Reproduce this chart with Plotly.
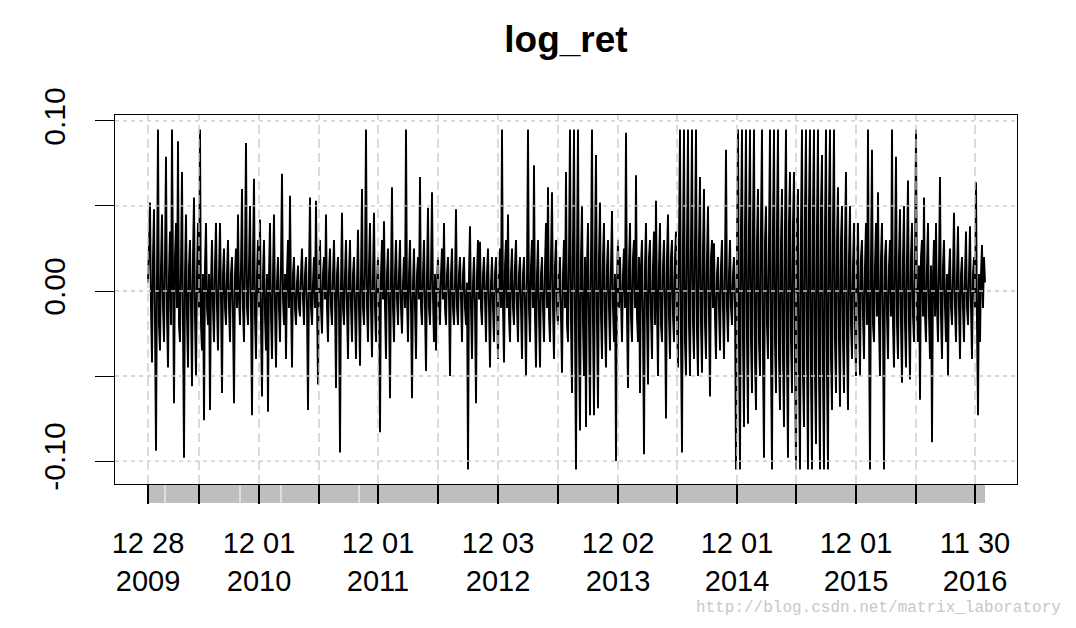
import plotly.graph_objects as go

log_ret = [
    0.005, 0.03, 0.052, -0.01, -0.042, 0.02, 0.048, -0.02, -0.094, 0.01, 0.095, -0.02, -0.035, 0.015, 0.045, -0.01, -0.03, 0.02, 0.079, -0.015,
    -0.045, 0.01, 0.035, -0.02, 0.095, 0.01, -0.066, 0.02, 0.04, -0.01, 0.088, -0.02, -0.03, 0.015, 0.07, -0.02, -0.098, 0.01, 0.045, -0.015,
    -0.045, 0.015, 0.03, -0.01, -0.056, 0.02, 0.055, -0.015, -0.05, 0.01, 0.04, -0.01, 0.095, -0.02, -0.035, 0.01, -0.076, 0.015, 0.04, -0.01,
    -0.02, 0.01, -0.07, 0.005, 0.03, -0.01, -0.03, 0.015, 0.04, -0.01, -0.035, 0.01, 0.04, -0.005, -0.06, 0.01, 0.025, -0.01, -0.02, 0.01,
    0.03, -0.01, -0.03, 0.01, 0.02, -0.015, -0.066, 0.01, 0.025, -0.01, 0.045, -0.005, -0.02, 0.015, 0.06, -0.01, -0.03, 0.02, 0.087, -0.01,
    -0.02, 0.015, 0.05, -0.01, -0.073, 0.02, 0.066, -0.015, -0.04, 0.01, 0.03, -0.01, 0.042, -0.02, -0.062, 0.01, 0.03, -0.015, -0.035, 0.01,
    -0.071, 0.01, 0.04, -0.015, -0.04, 0.01, 0.045, -0.01, -0.045, 0.005, 0.02, -0.01, -0.03, 0.015, 0.069, -0.005, -0.02, 0.01, -0.04, 0.01,
    0.03, -0.01, 0.056, -0.005, -0.045, 0.01, 0.02, -0.01, -0.02, 0.005, 0.015, -0.01, -0.015, 0.01, 0.025, -0.005, -0.02, 0.01, 0.02, -0.01,
    -0.07, 0.01, 0.055, -0.01, -0.02, 0.005, 0.02, -0.01, 0.053, -0.005, -0.055, 0.01, 0.03, -0.01, -0.025, 0.01, 0.02, -0.005, 0.045, -0.01,
    -0.03, 0.01, 0.025, -0.01, -0.02, 0.01, 0.03, -0.005, -0.057, 0.01, 0.02, -0.01, -0.095, 0.005, 0.046, -0.01, -0.02, 0.01, 0.03, -0.01,
    -0.04, 0.01, 0.03, -0.01, -0.03, 0.01, 0.02, -0.01, -0.04, 0.005, 0.036, -0.01, -0.044, 0.01, 0.06, -0.01, -0.02, 0.015, 0.095, -0.01,
    -0.03, 0.015, 0.04, -0.01, -0.039, 0.01, 0.046, -0.01, -0.03, 0.005, 0.02, -0.01, -0.083, 0.01, 0.03, -0.005, 0.041, -0.01, -0.04, 0.01,
    0.025, -0.01, -0.063, 0.01, 0.061, -0.01, -0.03, 0.01, 0.03, -0.005, -0.02, 0.01, 0.03, -0.01, -0.025, 0.005, 0.02, -0.01, 0.095, -0.005,
    -0.03, 0.01, 0.03, -0.01, -0.063, 0.005, 0.025, -0.01, -0.04, 0.01, 0.02, -0.005, 0.067, -0.01, -0.02, 0.01, 0.03, -0.01, -0.047, 0.01,
    0.049, -0.01, -0.02, 0.01, 0.058, -0.005, -0.03, 0.01, -0.035, 0.005, 0.02, -0.01, -0.02, 0.01, 0.025, -0.005, 0.04, -0.01, -0.02, 0.01,
    0.02, -0.005, -0.05, 0.01, 0.025, -0.01, -0.02, 0.005, 0.048, -0.01, -0.02, 0.01, 0.02, -0.005, -0.03, 0.01, 0.02, -0.01, -0.02, 0.005,
    -0.105, 0.01, 0.038, -0.01, -0.04, 0.005, 0.02, -0.01, -0.066, 0.01, 0.03, -0.005, 0.029, -0.01, -0.02, 0.01, 0.02, -0.005, -0.03, 0.01,
    0.025, -0.01, -0.045, 0.005, 0.02, -0.01, -0.03, 0.01, 0.02, -0.005, -0.04, 0.01, 0.025, -0.01, 0.095, -0.01, -0.042, 0.015, 0.03, -0.01,
    0.045, -0.015, -0.03, 0.01, 0.025, -0.01, -0.02, 0.015, 0.03, -0.01, -0.03, 0.01, 0.02, -0.01, -0.04, 0.01, 0.02, -0.01, -0.05, 0.01,
    0.095, -0.01, -0.03, 0.015, 0.03, -0.01, 0.074, -0.015, -0.045, 0.01, 0.03, -0.015, -0.045, 0.01, 0.02, -0.01, -0.03, 0.015, 0.04, -0.01,
    0.061, -0.015, -0.03, 0.02, 0.058, -0.01, -0.04, 0.015, 0.03, -0.01, -0.02, 0.01, 0.02, -0.015, -0.048, 0.01, 0.03, -0.01, 0.07, -0.02,
    -0.03, 0.02, 0.095, -0.02, -0.06, 0.03, 0.095, -0.02, -0.105, 0.02, 0.095, -0.03, -0.082, 0.02, 0.05, -0.02, -0.05, 0.02, -0.08, 0.015,
    0.04, -0.02, -0.073, 0.02, 0.095, -0.02, -0.073, 0.025, 0.08, -0.02, -0.069, 0.02, 0.052, -0.015, -0.04, 0.02, 0.04, -0.02, -0.045, 0.015,
    0.03, -0.01, -0.035, 0.015, 0.047, -0.01, -0.03, 0.01, -0.1, 0.005, 0.03, -0.01, 0.02, -0.005, -0.03, 0.01, 0.025, -0.01, 0.093, -0.015,
    -0.057, 0.015, 0.04, -0.015, -0.03, 0.02, 0.03, -0.01, 0.068, -0.015, -0.03, 0.02, -0.06, 0.015, 0.03, -0.02, -0.096, 0.015, 0.04, -0.015,
    -0.055, 0.02, 0.03, -0.015, -0.04, 0.015, 0.035, -0.02, 0.053, -0.01, -0.05, 0.015, 0.04, -0.02, -0.03, 0.015, 0.03, -0.01, -0.075, 0.02,
    0.045, -0.015, -0.04, 0.02, 0.03, -0.015, -0.03, 0.02, 0.035, -0.02, -0.045, 0.03, 0.095, -0.03, -0.095, 0.03, 0.095, -0.03, -0.05, 0.03,
    0.095, -0.02, -0.05, 0.03, 0.095, -0.02, -0.04, 0.03, 0.095, -0.025, -0.05, 0.03, 0.067, -0.02, -0.048, 0.025, 0.06, -0.02, -0.04, 0.02,
    0.05, -0.015, -0.062, 0.02, 0.03, -0.01, 0.028, -0.015, -0.04, 0.01, 0.02, -0.01, -0.035, 0.015, 0.03, -0.01, -0.04, 0.015, 0.083, -0.01,
    -0.03, 0.01, 0.03, -0.01, -0.02, 0.01, 0.02, -0.01, -0.105, 0.03, 0.095, -0.03, -0.105, 0.04, 0.095, -0.03, -0.08, 0.04, 0.095, -0.03,
    -0.078, 0.04, 0.095, -0.03, -0.06, 0.04, 0.095, -0.04, -0.07, 0.03, 0.06, -0.03, -0.05, 0.04, 0.095, -0.04, -0.098, 0.03, 0.05, -0.02,
    -0.04, 0.03, 0.095, -0.04, -0.105, 0.04, 0.095, -0.03, -0.06, 0.04, 0.095, -0.04, -0.07, 0.03, 0.06, -0.04, -0.08, 0.04, 0.095, -0.04,
    -0.098, 0.04, 0.07, -0.03, -0.06, 0.04, 0.07, -0.04, -0.105, 0.04, 0.06, -0.05, -0.105, 0.04, 0.095, -0.05, -0.08, 0.05, 0.095, -0.04,
    -0.105, 0.05, 0.095, -0.05, -0.105, 0.05, 0.095, -0.05, -0.09, 0.04, 0.095, -0.05, -0.105, 0.05, 0.08, -0.05, -0.105, 0.04, 0.095, -0.05,
    -0.105, 0.05, 0.095, -0.04, -0.07, 0.04, 0.095, -0.03, -0.06, 0.03, 0.061, -0.03, -0.068, 0.03, 0.05, -0.03, -0.06, 0.03, 0.07, -0.03,
    -0.07, 0.02, 0.05, -0.02, -0.04, 0.015, 0.04, -0.02, -0.05, 0.015, 0.04, -0.015, -0.05, 0.02, 0.03, -0.015, -0.04, 0.015, 0.04, -0.02,
    0.095, -0.02, -0.105, 0.02, 0.083, -0.02, -0.03, 0.015, 0.04, -0.015, 0.058, -0.02, -0.05, 0.02, 0.04, -0.02, -0.105, 0.02, 0.03, -0.015,
    -0.04, 0.015, 0.03, -0.015, 0.095, -0.02, -0.045, 0.02, 0.079, -0.02, -0.04, 0.02, 0.048, -0.02, -0.054, 0.02, 0.05, -0.02, -0.045, 0.02,
    0.065, -0.02, -0.052, 0.02, 0.04, -0.015, -0.03, 0.015, 0.095, -0.015, -0.03, 0.015, -0.064, 0.02, 0.03, -0.015, 0.055, -0.015, -0.03, 0.015,
    0.04, -0.015, -0.04, 0.015, -0.089, 0.01, 0.03, -0.015, 0.04, -0.01, -0.03, 0.015, 0.067, -0.015, -0.04, 0.015, 0.03, -0.01, -0.03, 0.01,
    -0.05, 0.01, 0.025, -0.01, -0.02, 0.01, 0.046, -0.01, -0.03, 0.01, 0.038, -0.01, -0.04, 0.01, 0.02, -0.01, -0.03, 0.01, 0.035, -0.01,
    -0.02, 0.01, 0.038, -0.01, -0.04, 0.01, 0.02, -0.01, 0.064, -0.02, -0.073, 0.01, -0.03, 0.01, 0.027, -0.01, 0.02, 0.005,
]
obs_index = list(range(len(log_ret)))

# x-axis major tick positions (observation index) and labels
major_ticks = [0, 51, 111, 171, 230, 290, 350, 410, 470, 529, 589, 648, 708, 768, 827]
major_labels = ["12 28<br>2009", "", "12 01<br>2010", "", "12 01<br>2011", "",
                "12 03<br>2012", "", "12 02<br>2013", "", "12 01<br>2014", "",
                "12 01<br>2015", "", "11 30<br>2016"]
minor_ticks = [17, 92, 133, 211]

# y-axis ticks
y_ticks = [-0.10, -0.05, 0.00, 0.05, 0.10]
y_labels = ["-0.10", "", "0.00", "", "0.10"]

FONT = "Liberation Sans, Arial, sans-serif"
GRID = "#c8c8c8"

fig = go.Figure()
fig.add_trace(go.Scatter(x=obs_index, y=log_ret, mode="lines",
                         line=dict(color="black", width=1.9),
                         hoverinfo="skip", showlegend=False))

shapes = []
# grey band under the plot
shapes.append(dict(type="rect", xref="x", yref="paper", x0=obs_index[0], x1=obs_index[-1],
                   y0=-0.0515, y1=0, fillcolor="#bebebe", line=dict(width=0), layer="below"))
for m in minor_ticks:
    shapes.append(dict(type="line", xref="x", yref="paper", x0=m, x1=m, y0=-0.0515, y1=0,
                       line=dict(color="white", width=1), layer="below"))
# grid drawn above data
for t in major_ticks:
    shapes.append(dict(type="line", xref="x", yref="paper", x0=t, x1=t, y0=0, y1=1,
                       line=dict(color=GRID, width=1.3, dash="9px,5px"), layer="above"))
for v in y_ticks:
    shapes.append(dict(type="line", xref="paper", yref="y", x0=0, x1=1, y0=v, y1=v,
                       line=dict(color=GRID, width=1.3, dash="4px,4px"), layer="above"))

fig.update_layout(
    width=1076, height=628,
    margin=dict(l=115, r=59, t=115, b=144),
    paper_bgcolor="white", plot_bgcolor="white",
    shapes=shapes,
    title=dict(text="<b>log_ret</b>", x=0.526, xanchor="center", y=0.938, yanchor="middle",
               font=dict(family=FONT, size=37, color="black")),
    xaxis=dict(range=[-33, 869], showgrid=False, zeroline=False,
               showline=True, mirror=True, linecolor="black", linewidth=1.3,
               tickmode="array", tickvals=major_ticks, ticktext=major_labels,
               ticks="outside", ticklen=19, tickwidth=2.2, tickcolor="black",
               ticklabelstandoff=14,
               tickfont=dict(family=FONT, size=29, color="black")),
    yaxis=dict(range=[-0.1135, 0.1035], showgrid=False, zeroline=False,
               showline=True, mirror=True, linecolor="black", linewidth=1.3,
               tickmode="array", tickvals=y_ticks, ticktext=y_labels,
               ticks="outside", ticklen=19, tickwidth=1.3, tickcolor="black",
               tickangle=-90, ticklabelstandoff=18,
               tickfont=dict(family=FONT, size=30, color="black")),
    annotations=[dict(text="http://blog.csdn.net/matrix_laboratory", xref="paper", yref="paper",
                      x=1.051, y=-0.335, xanchor="right", yanchor="middle", showarrow=False,
                      font=dict(family="Liberation Mono, DejaVu Sans Mono, monospace", size=16,
                                color="#c8c8c8"))],
)

fig.write_html("out.html", config={"displayModeBar": False},
               post_script="document.body.style.margin='0px';")
